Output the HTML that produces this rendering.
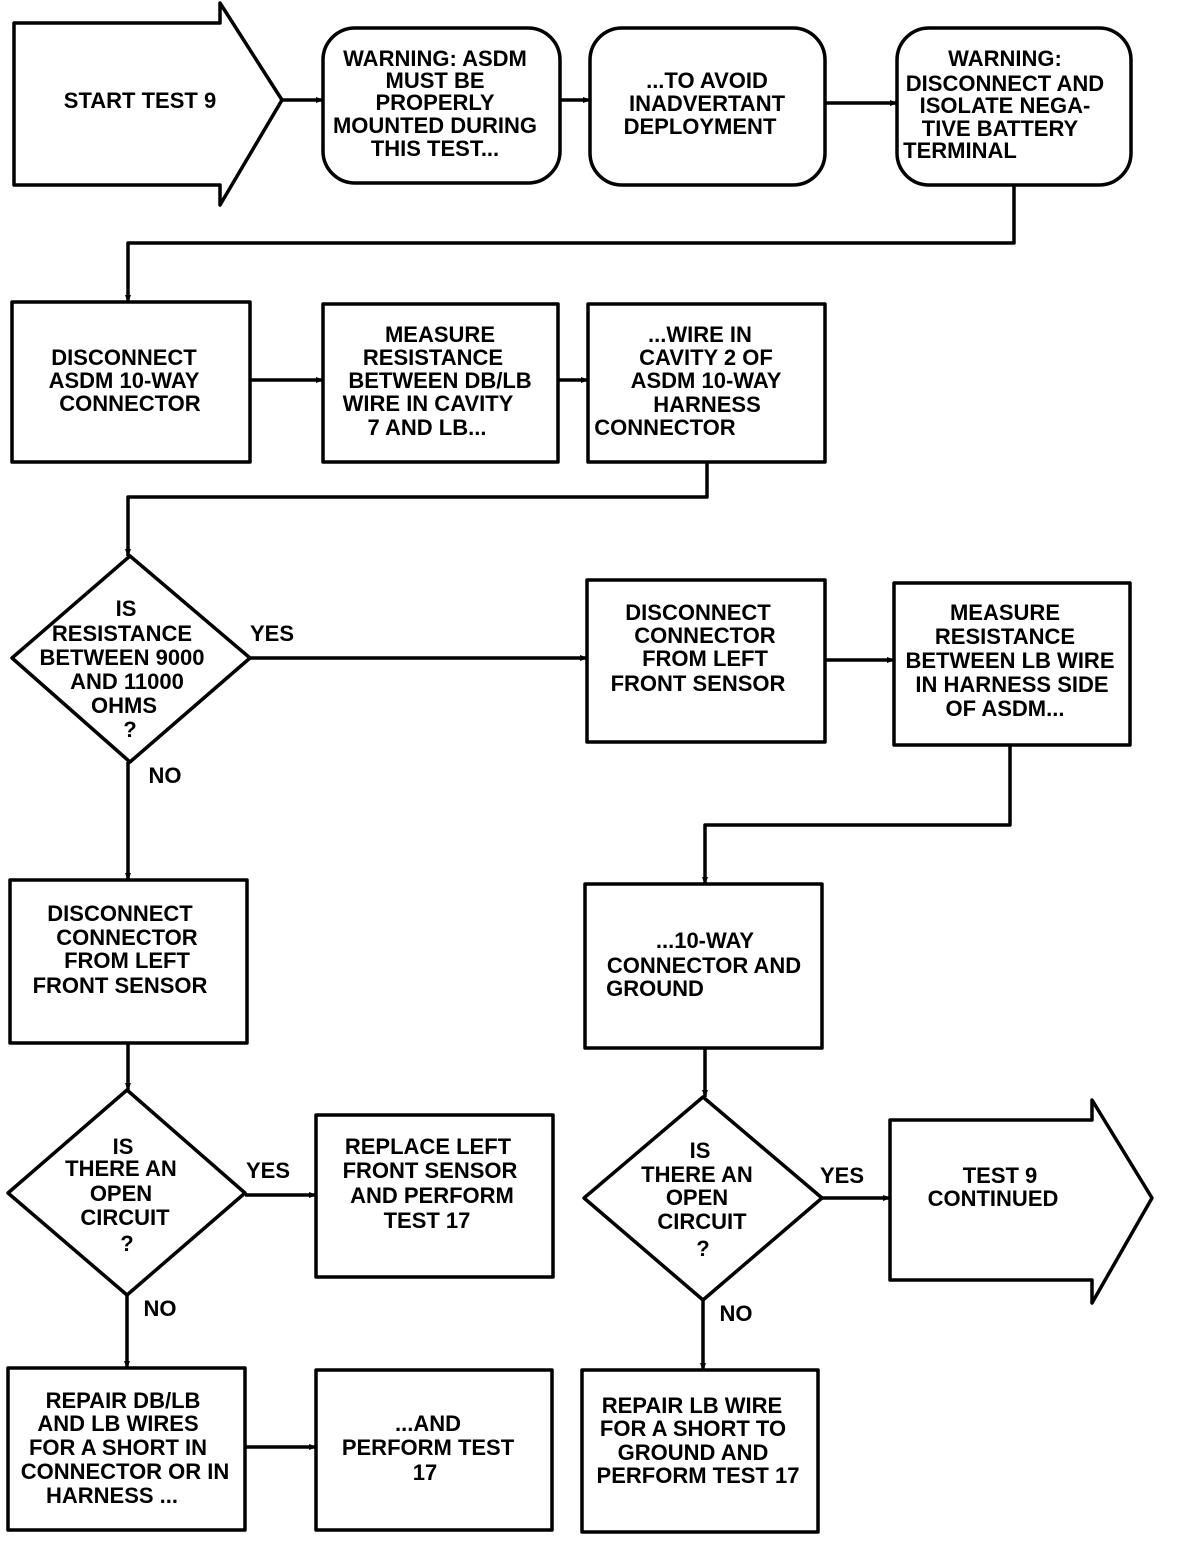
<!DOCTYPE html>
<html><head><meta charset="utf-8"><style>
html,body{margin:0;padding:0;background:#fff;}
svg text{font-family:"Liberation Sans Narrow","Liberation Sans",sans-serif;font-weight:bold;font-size:22px;fill:#000;text-anchor:middle;}
</style></head><body>
<svg width="1184" height="1538" viewBox="0 0 1184 1538" xmlns="http://www.w3.org/2000/svg">
<defs><marker id="a" markerWidth="8" markerHeight="8" refX="7" refY="4" orient="auto" markerUnits="userSpaceOnUse"><path d="M0,1 L8,4 L0,7 Z" fill="#000"/></marker></defs>
<g fill="none" stroke="#000" stroke-width="3.5" stroke-linejoin="round">
<polygon points="14,23 220,23 220,3 282,100 220,205 220,185 14,185"/>
<rect x="323" y="28" width="237" height="155" rx="32"/>
<rect x="590" y="28" width="235" height="157" rx="32"/>
<rect x="897" y="28" width="234" height="157" rx="32"/>
<rect x="12" y="302" width="238" height="160"/>
<rect x="323" y="304" width="235" height="158"/>
<rect x="588" y="304" width="237" height="158"/>
<polygon points="130,556 250,658 130,762 12,658"/>
<rect x="587" y="580" width="238" height="162"/>
<rect x="894" y="583" width="236" height="162"/>
<rect x="10" y="880" width="237" height="163"/>
<rect x="585" y="884" width="237" height="164"/>
<polygon points="127,1090 245,1193 127,1295 8,1193"/>
<polygon points="703,1097 822,1198 703,1300 584,1198"/>
<rect x="316" y="1115" width="237" height="162"/>
<polygon points="890,1120 1092,1120 1092,1100 1152,1198 1092,1303 1092,1280 890,1280"/>
<rect x="8" y="1368" width="237" height="162"/>
<rect x="316" y="1370" width="236" height="160"/>
<rect x="582" y="1370" width="236" height="162"/>
<g marker-end="url(#a)">
<line x1="282" y1="100" x2="323" y2="100"/>
<line x1="560" y1="100" x2="590" y2="100"/>
<line x1="825" y1="103" x2="897" y2="103"/>
<polyline points="1014,185 1014,243 128,243 128,302"/>
<line x1="250" y1="380" x2="323" y2="380"/>
<line x1="558" y1="380" x2="588" y2="380"/>
<polyline points="707,462 707,497 128,497 128,556"/>
<line x1="250" y1="658" x2="587" y2="658"/>
<line x1="825" y1="660" x2="894" y2="660"/>
<polyline points="1010,745 1010,825 705,825 705,884"/>
<line x1="705" y1="1048" x2="705" y2="1097"/>
<line x1="822" y1="1198" x2="890" y2="1198"/>
<line x1="703" y1="1300" x2="703" y2="1370"/>
<line x1="128" y1="762" x2="128" y2="880"/>
<line x1="128" y1="1043" x2="128" y2="1090"/>
<line x1="245" y1="1195" x2="316" y2="1195"/>
<line x1="127" y1="1295" x2="127" y2="1368"/>
<line x1="245" y1="1447" x2="316" y2="1447"/>
</g>
</g>
<text x="140" y="108">START TEST 9</text>
<text x="435" y="66">WARNING: ASDM</text><text x="435" y="88">MUST BE</text><text x="435" y="110">PROPERLY</text><text x="435" y="133">MOUNTED DURING</text><text x="435" y="156">THIS TEST...</text>
<text x="707" y="88">...TO AVOID</text><text x="707" y="111">INADVERTANT</text><text x="700" y="134">DEPLOYMENT</text>
<text x="1005" y="66">WARNING:</text><text x="1005" y="91">DISCONNECT AND</text><text x="1005" y="113">ISOLATE NEGA-</text><text x="1000" y="136">TIVE BATTERY</text><text x="960" y="158">TERMINAL</text>
<text x="124" y="365">DISCONNECT</text><text x="124" y="388">ASDM 10-WAY</text><text x="130" y="411">CONNECTOR</text>
<text x="440" y="342">MEASURE</text><text x="433" y="365">RESISTANCE</text><text x="440" y="388">BETWEEN DB/LB</text><text x="428" y="411">WIRE IN CAVITY</text><text x="427" y="435">7 AND LB...</text>
<text x="700" y="342">...WIRE IN</text><text x="706" y="365">CAVITY 2 OF</text><text x="706" y="388">ASDM 10-WAY</text><text x="707" y="412">HARNESS</text><text x="665" y="435">CONNECTOR</text>
<text x="126" y="616">IS</text><text x="122" y="641">RESISTANCE</text><text x="122" y="665">BETWEEN 9000</text><text x="127" y="689">AND 11000</text><text x="124" y="713">OHMS</text><text x="130" y="737">?</text>
<text x="272" y="641">YES</text><text x="165" y="783">NO</text>
<text x="698" y="620">DISCONNECT</text><text x="705" y="643">CONNECTOR</text><text x="705" y="666">FROM LEFT</text><text x="698" y="691">FRONT SENSOR</text>
<text x="1005" y="620">MEASURE</text><text x="1005" y="644">RESISTANCE</text><text x="1010" y="668">BETWEEN LB WIRE</text><text x="1012" y="692">IN HARNESS SIDE</text><text x="1005" y="716">OF ASDM...</text>
<text x="120" y="921">DISCONNECT</text><text x="127" y="945">CONNECTOR</text><text x="127" y="968">FROM LEFT</text><text x="120" y="993">FRONT SENSOR</text>
<text x="705" y="948">...10-WAY</text><text x="704" y="973">CONNECTOR AND</text><text x="655" y="996">GROUND</text>
<text x="123" y="1154">IS</text><text x="121" y="1176">THERE AN</text><text x="121" y="1201">OPEN</text><text x="125" y="1225">CIRCUIT</text><text x="127" y="1251">?</text>
<text x="268" y="1178">YES</text><text x="160" y="1316">NO</text>
<text x="428" y="1154">REPLACE LEFT</text><text x="430" y="1178">FRONT SENSOR</text><text x="432" y="1203">AND PERFORM</text><text x="427" y="1228">TEST 17</text>
<text x="700" y="1158">IS</text><text x="697" y="1182">THERE AN</text><text x="697" y="1205">OPEN</text><text x="702" y="1229">CIRCUIT</text><text x="703" y="1256">?</text>
<text x="842" y="1183">YES</text><text x="736" y="1321">NO</text>
<text x="1000" y="1183">TEST 9</text><text x="993" y="1206">CONTINUED</text>
<text x="123" y="1408">REPAIR DB/LB</text><text x="118" y="1431">AND LB WIRES</text><text x="118" y="1455">FOR A SHORT IN</text><text x="125" y="1479">CONNECTOR OR IN</text><text x="112" y="1503">HARNESS ...</text>
<text x="428" y="1431">...AND</text><text x="428" y="1455">PERFORM TEST</text><text x="425" y="1480">17</text>
<text x="692" y="1413">REPAIR LB WIRE</text><text x="693" y="1436">FOR A SHORT TO</text><text x="693" y="1460">GROUND AND</text><text x="698" y="1483">PERFORM TEST 17</text>
</svg>
</body></html>
